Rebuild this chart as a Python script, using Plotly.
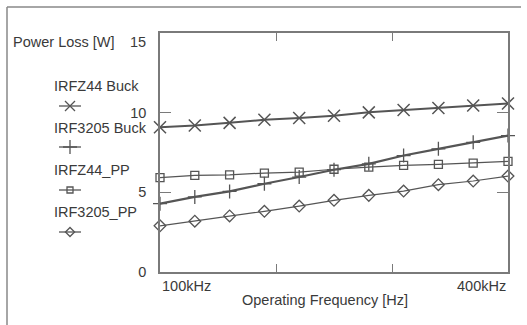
import plotly.graph_objects as go

# ---- data ----
freq_khz = [100, 130, 160, 190, 220, 250, 280, 310, 340, 370, 400]
irfz44_buck = [9.08, 9.19, 9.36, 9.56, 9.67, 9.81, 10.02, 10.17, 10.29, 10.45, 10.58]
irf3205_buck = [4.29, 4.71, 5.06, 5.54, 5.96, 6.42, 6.79, 7.31, 7.73, 8.14, 8.56]
irfz44_pp = [5.92, 6.06, 6.10, 6.21, 6.27, 6.45, 6.58, 6.69, 6.75, 6.83, 6.94]
irf3205_pp = [2.90, 3.19, 3.52, 3.81, 4.14, 4.50, 4.81, 5.08, 5.48, 5.71, 6.02]
series_names = ["IRFZ44 Buck", "IRF3205 Buck", "IRFZ44_PP", "IRF3205_PP"]
y_tick_vals = [0, 5, 10]
y_top_label = "15"
x_tick_vals = [200, 300]
x_end_labels = ["100kHz", "400kHz"]

FONT = "Liberation Sans, Arial, sans-serif"
FS = 14.5
TXT = "#3a3a3a"
LINE = "#555555"
AX = "#7a7a7a"

styles = [
    dict(symbol="x-thin-open", size=12, lw=2.0, mlw=1.5),
    dict(symbol="cross-thin-open", size=10, lw=2.2, mlw=1.3),
    dict(symbol="square-open", size=8, lw=1.2, mlw=1.3),
    dict(symbol="diamond-open", size=9, lw=1.2, mlw=1.3),
]
series = [irfz44_buck, irf3205_buck, irfz44_pp, irf3205_pp]

fig = go.Figure()
for name, ys, st in zip(series_names, series, styles):
    fig.add_trace(go.Scatter(
        x=freq_khz, y=ys, name=name, mode="lines+markers",
        line=dict(color=LINE, width=st["lw"]),
        marker=dict(symbol=st["symbol"], size=st["size"], color=LINE,
                    line=dict(color=LINE, width=st["mlw"])),
        showlegend=False, xaxis="x", yaxis="y", cliponaxis=False))

# ---- hand-drawn style legend (text above key) on a helper pixel axis ----
leg_text_y = [86, 128, 170, 212]
leg_key_y = [106, 147, 190, 232]
key_sizes = [10, 10, 6, 7]
for name, st, ky, ks in zip(series_names, styles, leg_key_y, key_sizes):
    fig.add_trace(go.Scatter(
        x=[59, 81], y=[ky, ky], mode="lines", line=dict(color=LINE, width=1.3),
        showlegend=False, xaxis="x2", yaxis="y2", hoverinfo="skip"))
    fig.add_trace(go.Scatter(
        x=[70], y=[ky], mode="markers",
        marker=dict(symbol=st["symbol"], size=ks, color=LINE,
                    line=dict(color=LINE, width=1.3)),
        showlegend=False, xaxis="x2", yaxis="y2", hoverinfo="skip"))

tf = dict(family=FONT, size=FS, color=TXT)
annotations = []
for name, ty in zip(series_names, leg_text_y):
    annotations.append(dict(x=52, y=ty, xref="x2", yref="y2", text=name,
                            showarrow=False, xanchor="left", yanchor="middle", font=tf))
annotations.append(dict(x=11, y=42, xref="x2", yref="y2", text="Power Loss [W]",
                        showarrow=False, xanchor="left", yanchor="middle", font=tf))
annotations.append(dict(x=148, y=42, xref="x2", yref="y2", text=y_top_label,
                        showarrow=False, xanchor="right", yanchor="middle", font=tf))
annotations.append(dict(x=freq_khz[0], y=-0.052, xref="x", yref="paper", text=x_end_labels[0],
                        showarrow=False, xanchor="left", yanchor="middle", font=tf))
annotations.append(dict(x=freq_khz[-1], y=-0.052, xref="x", yref="paper", text=x_end_labels[1],
                        showarrow=False, xanchor="right", yanchor="middle", font=tf))
annotations.append(dict(x=0.634, y=-0.105, xref="paper", yref="paper",
                        text="Operating Frequency [Hz]",
                        showarrow=False, xanchor="center", yanchor="middle", font=tf))

# plot area: x 160..508 px, y 33..272 px; paper: x 8..508, y 8..272
W, H = 527, 325
ml, mr, mt, mb = 8, 19, 8, 53
pw, ph = W - ml - mr, H - mt - mb

def px(xp):
    return (xp - ml) / pw

def py(yp):
    return (H - mb - yp) / ph

fig.update_layout(
    width=W, height=H,
    margin=dict(l=ml, r=mr, t=mt, b=mb),
    paper_bgcolor="white", plot_bgcolor="rgba(0,0,0,0)",
    font=dict(family=FONT, size=FS, color=TXT),
    annotations=annotations,
    xaxis=dict(domain=[px(160), 1.0], range=[100, 400], tickvals=x_tick_vals,
               showticklabels=False, ticks="inside", ticklen=8, tickwidth=1.3,
               tickcolor=AX, showline=True, linecolor=AX, linewidth=1.6,
               mirror="ticks", showgrid=False, zeroline=False, anchor="y"),
    yaxis=dict(domain=[0, py(33)], range=[0, 15], tickvals=y_tick_vals,
               ticks="inside", ticklen=11, tickwidth=1.3, tickcolor=AX,
               showline=True, linecolor=AX, linewidth=1.6, mirror="ticks",
               showgrid=False, zeroline=False, ticklabelstandoff=9,
               tickfont=tf, anchor="x"),
    xaxis2=dict(domain=[0, px(160)], range=[ml, 160], visible=False, anchor="y2"),
    yaxis2=dict(domain=[0, 1], range=[H - mb, mt], visible=False, anchor="x2"),
    shapes=[
        dict(type="line", xref="paper", yref="paper", x0=px(7), x1=px(521),
             y0=py(7), y1=py(7), layer="above", line=dict(color="#888888", width=1.5)),
        dict(type="line", xref="paper", yref="paper", x0=px(7), x1=px(7),
             y0=py(7), y1=py(325), layer="above", line=dict(color="#888888", width=1.5)),
    ],
)

fig.write_html("out.html",
               config={"displayModeBar": False},
               post_script="document.body.style.margin='0';document.body.style.padding='0';")
